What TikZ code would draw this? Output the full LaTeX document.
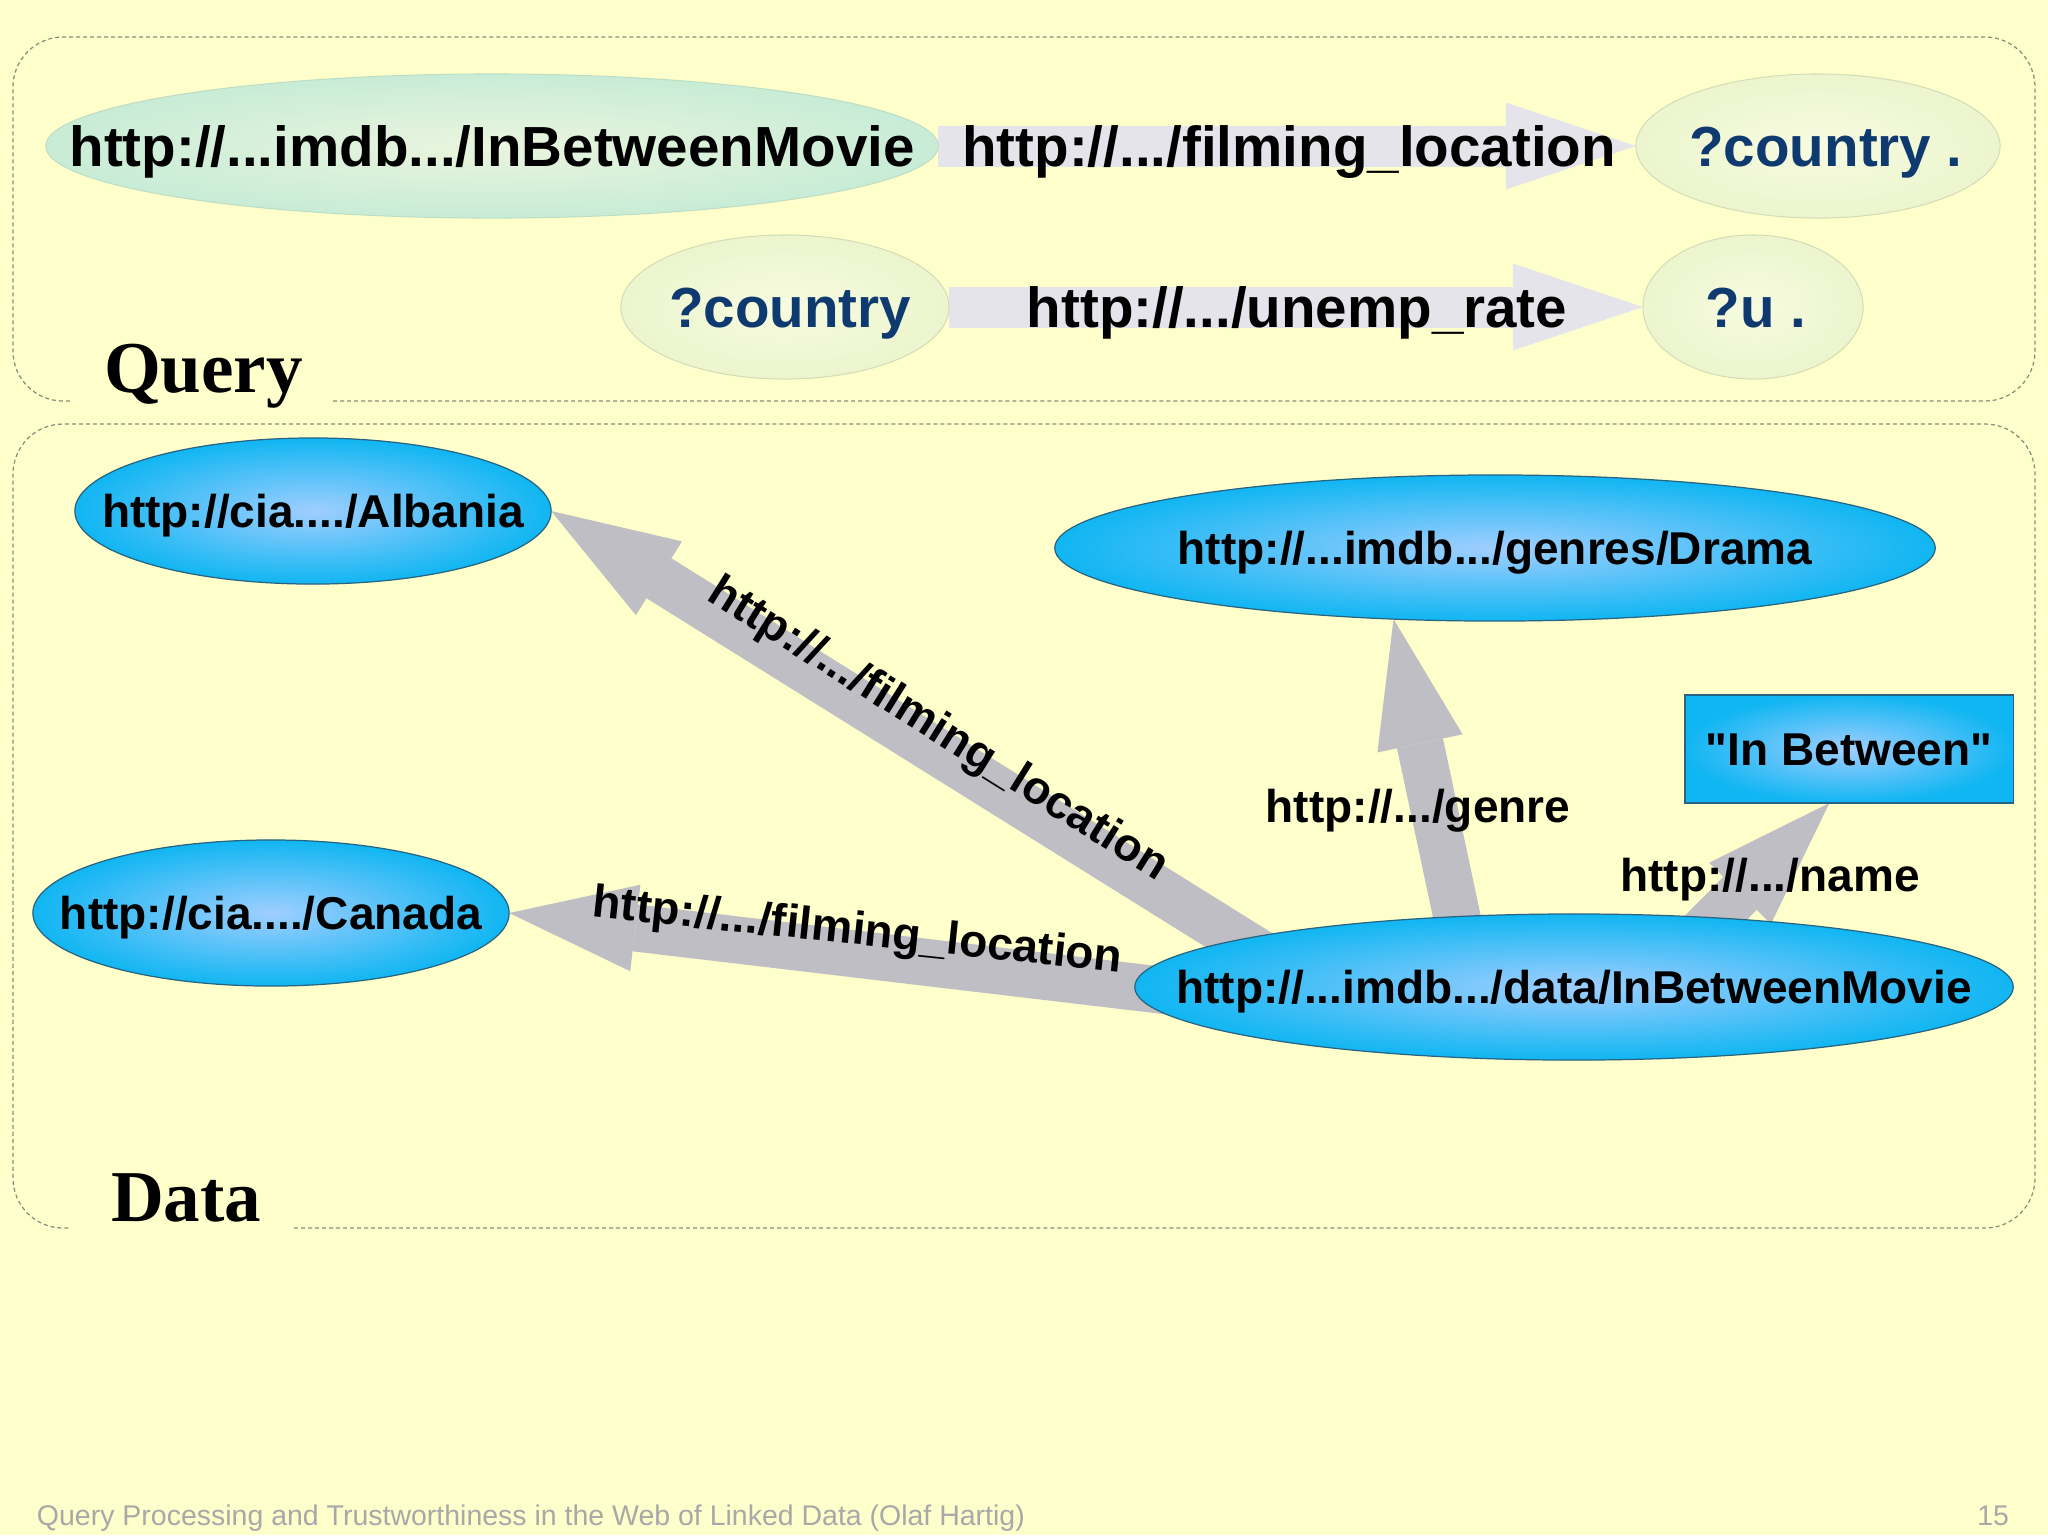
\documentclass[tikz,border=0pt]{standalone}
\usepackage{fontspec}
\setmainfont{Liberation Sans}[Ligatures=TeXOff]
\newfontfamily\lserif{Liberation Serif}
\usetikzlibrary{arrows.meta,shapes.geometric}
\pgfdeclarelayer{back}
\pgfdeclarelayer{bg}
\pgfsetlayers{back,bg,main}
\definecolor{paper}{RGB}{255,255,204}
\definecolor{boxline}{RGB}{140,140,120}
\definecolor{qmintin}{RGB}{234,245,222}
\definecolor{qmintout}{RGB}{200,236,214}
\definecolor{qmintline}{RGB}{190,222,196}
\definecolor{qvarin}{RGB}{247,251,225}
\definecolor{qvarout}{RGB}{236,245,205}
\definecolor{qvarline}{RGB}{212,222,182}
\definecolor{qtext}{RGB}{14,58,112}
\definecolor{qarr}{RGB}{228,228,234}
\definecolor{darr}{RGB}{191,190,196}
\definecolor{bluein}{RGB}{160,206,255}
\definecolor{blueout}{RGB}{16,182,242}
\definecolor{blueline}{RGB}{40,100,130}
\definecolor{footgrey}{RGB}{168,168,168}
\newcommand\fBig{\fontsize{16.08pt}{19pt}\selectfont}
\newcommand\fSmall{\fontsize{13.09pt}{16pt}\selectfont}
\newcommand\fLab{\fontsize{20.78pt}{24pt}\selectfont}
\newcommand\fFoot{\fontsize{8.1pt}{10pt}\selectfont}
\newcommand\zw[1]{\makebox[0pt]{#1}}
\begin{document}
\begin{tikzpicture}[x=0.01cm,y=-0.01cm,
  every node/.style={inner sep=0pt,outer sep=0pt},
  boxstyle/.style={draw=boxline,line width=0.35pt,dash pattern=on 0.04cm off 0.03cm,rounded corners=0.5cm},
  qmint/.style={ellipse,draw=qmintline,line width=0.3pt,shading=radial,inner color=qmintin,outer color=qmintout,
    font=\fBig\bfseries,text=black,text height=11.5pt,text depth=0pt,minimum height=1.44cm},
  qvar/.style={ellipse,draw=qvarline,line width=0.3pt,shading=radial,inner color=qvarin,outer color=qvarout,
    font=\fBig\bfseries,text=qtext,text height=11.5pt,text depth=0pt,minimum height=1.44cm},
  dnode/.style={ellipse,draw=blueline,line width=0.35pt,shading=radial,inner color=bluein,outer color=blueout,
    font=\fSmall\bfseries,text=black,text height=9.4pt,text depth=0pt,minimum height=1.46cm},
  dbox/.style={rectangle,draw=blueline,line width=0.35pt,shading=radial,inner color=bluein,outer color=blueout,
    font=\fSmall\bfseries,text=black,text height=9.4pt,text depth=0pt},
  qarrow/.style={draw=qarr,line width=0.41cm,-{Triangle[length=1.30cm,width=0.87cm,line width=0pt]}},
  darrow/.style={draw=darr,line width=0.47cm,shorten <=-0.45cm,-{Triangle[length=1.27cm,width=0.87cm,line width=0pt]}},
  tlab/.style={font=\fBig\bfseries,text=black,text height=11.5pt,text depth=0pt},
  elab/.style={font=\fSmall\bfseries,text=black,text height=9.4pt,text depth=0pt},
  seclab/.style={anchor=base west,font=\lserif\bfseries\fLab,text=black}
]
\begin{pgfonlayer}{back}
\fill[paper] (0,0) rectangle (2048,1535);
\end{pgfonlayer}
\useasboundingbox (0,0) rectangle (2048,1535);

% section frames
\draw[boxstyle] (333,401) -- (2035,401) -- (2035,37) -- (13,37) -- (13,401) -- (72,401);
\draw[boxstyle] (294,1228) -- (2035,1228) -- (2035,424) -- (13,424) -- (13,1228) -- (70,1228);
\node[seclab] (qlab) at (104,392) {Query};
\node[seclab] (dlab) at (111,1221) {Data};

% query nodes
\node[qmint,minimum width=8.92cm] (q1) at (492,146) {\zw{http://...imdb.../InBetweenMovie}};
\node[qvar,minimum width=3.64cm] (qc1) at (1818,146) {\zw{\hspace{0.16cm}?country .}};
\node[qvar,minimum width=3.28cm] (qc2) at (785,307) {\zw{\hspace{0.1cm}?country}};
\node[qvar,minimum width=2.20cm] (qu) at (1753,307) {\zw{\hspace{0.06cm}?u .}};

% data nodes
\node[dnode,minimum width=4.76cm] (alb) at (313,511) {\zw{http://cia..../Albania}};
\node[dnode,minimum width=4.76cm] (can) at (271,913) {\zw{http://cia..../Canada}};
\node[dnode,minimum width=8.80cm] (drama) at (1495,548) {\zw{http://...imdb.../genres/Drama}};
\node[dnode,minimum width=8.78cm] (movie) at (1574,987) {\zw{http://...imdb.../data/InBetweenMovie}};
\node[dbox,minimum width=3.28cm,minimum height=1.08cm] (ib) at (1849,749) {\zw{"In Between"}};

% connectors
\begin{pgfonlayer}{bg}
\draw[qarrow] (q1.east) -- (qc1.west);
\draw[qarrow] (qc2.east) -- (qu.west);
\draw[darrow] (movie.172) -- (alb.east);
\draw[darrow] (movie.west) -- (can.east);
\draw[darrow] (movie.149) -- (drama.215);
\draw[darrow] (movie.26) -- (ib.-110);
\end{pgfonlayer}

% connector labels
\node[tlab] (t1) at (1289,146) {http://.../filming\_location};
\node[tlab] (t2) at (1297,307) {http://.../unemp\_rate};
\node[elab,rotate=-32] (l1) at (940,726) {http://.../filming\_location};
\node[elab,rotate=-6] (l2) at (858,928) {http://.../filming\_location};
\node[elab] (l3) at (1418,806) {http://.../genre};
\node[elab] (l4) at (1770,875) {http://.../name};

% footer
\node[anchor=base west,font=\fFoot,text=footgrey] (foot) at (37,1525) {Query Processing and Trustworthiness in the Web of Linked Data (Olaf Hartig)};
\node[anchor=base east,font=\fFoot,text=footgrey] (page) at (2009,1525) {15};
\end{tikzpicture}
\end{document}
